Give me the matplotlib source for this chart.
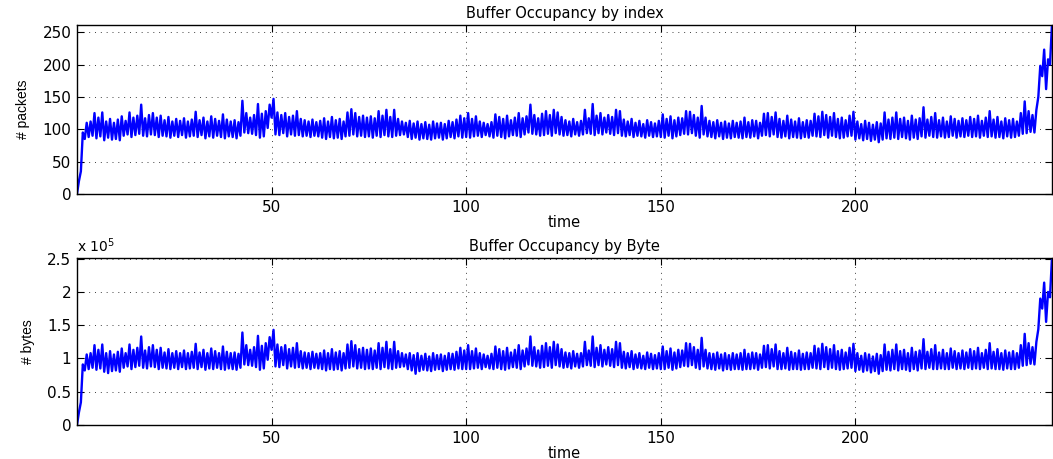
import matplotlib
matplotlib.use("Agg")
import matplotlib.pyplot as plt
import numpy as np
from matplotlib.ticker import FuncFormatter

# envelope of the queue trace, one pair per time unit (t = 0..250)
# lo is the bottom of the band at t, hi is the top of the band at t + 0.5
packets_lo = [0, 35, 85, 88, 90, 86, 89, 83, 87, 84,
              85, 83, 90, 92, 88, 91, 93, 90, 89, 92,
              91, 88, 90, 89, 87, 90, 88, 91, 87, 89,
              90, 88, 91, 86, 89, 87, 90, 88, 86, 89,
              88, 86, 90, 95, 94, 93, 91, 87, 89, 102,
              118, 92, 91, 94, 89, 92, 90, 91, 89, 90,
              88, 90, 89, 87, 85, 88, 86, 87, 85, 89,
              90, 92, 89, 90, 88, 89, 87, 90, 88, 91,
              89, 88, 90, 91, 92, 88, 85, 87, 84, 86,
              85, 84, 86, 87, 84, 86, 88, 86, 89, 87,
              88, 87, 89, 90, 88, 91, 89, 87, 90, 88,
              86, 89, 91, 90, 88, 92, 95, 93, 92, 90,
              91, 93, 90, 94, 92, 90, 91, 89, 92, 90,
              92, 94, 93, 91, 94, 92, 95, 93, 91, 94,
              90, 89, 91, 88, 90, 89, 87, 90, 88, 89,
              88, 87, 90, 86, 89, 91, 93, 92, 94, 90,
              87, 92, 89, 88, 86, 89, 85, 87, 86, 88,
              87, 86, 88, 87, 89, 86, 90, 91, 89, 92,
              88, 87, 89, 86, 88, 87, 86, 88, 87, 90,
              89, 88, 91, 87, 90, 88, 86, 87, 89, 90,
              84, 86, 83, 85, 82, 84, 80, 84, 86, 85,
              87, 85, 88, 86, 84, 87, 85, 89, 87, 90,
              88, 87, 89, 87, 88, 90, 87, 89, 88, 90,
              88, 89, 87, 90, 88, 89, 87, 88, 86, 89,
              87, 88, 90, 93, 94, 96, 95, 150, 182, 162, 200]
packets_hi = [20, 95, 110, 112, 125, 118, 126, 112, 116, 110,
              115, 120, 113, 126, 118, 121, 138, 117, 122, 125,
              118, 121, 114, 119, 112, 116, 113, 117, 112, 115,
              127, 114, 118, 112, 120, 116, 113, 123, 115, 112,
              114, 111, 144, 125, 118, 122, 139, 124, 128, 138,
              147, 126, 122, 125, 119, 121, 128, 116, 114, 112,
              115, 111, 113, 117, 112, 119, 114, 116, 112, 126,
              131, 125, 119, 121, 118, 120, 117, 128, 121, 130,
              119, 130, 116, 112, 110, 113, 109, 112, 108, 111,
              107, 112, 109, 110, 108, 113, 111, 115, 121, 117,
              125, 116, 120, 112, 110, 108, 111, 123, 119, 116,
              121, 114, 118, 125, 117, 120, 138, 122, 117, 124,
              128, 122, 130, 126, 119, 114, 112, 116, 111, 113,
              130, 117, 139, 121, 125, 118, 122, 119, 130, 128,
              115, 112, 116, 110, 113, 108, 114, 111, 109, 113,
              123, 116, 120, 114, 118, 117, 128, 127, 122, 118,
              136, 118, 113, 111, 114, 110, 112, 109, 113, 110,
              112, 118, 111, 114, 113, 110, 124, 125, 119, 126,
              116, 113, 121, 115, 112, 117, 111, 114, 113, 124,
              120, 127, 122, 119, 125, 116, 118, 114, 121, 127,
              112, 108, 113, 110, 107, 111, 109, 126, 115, 118,
              126, 116, 118, 113, 121, 115, 117, 134, 115, 119,
              125, 114, 118, 112, 120, 116, 113, 117, 114, 119,
              116, 121, 113, 118, 128, 115, 119, 112, 117, 114,
              116, 112, 125, 143, 128, 122, 130, 198, 223, 208, 261]

# same trace in bytes, read in thousands of bytes
kbytes_lo = [0, 34, 82, 84, 86, 83, 85, 80, 78, 81,
             82, 80, 86, 88, 84, 87, 89, 86, 85, 88,
             87, 84, 86, 85, 84, 86, 84, 87, 84, 85,
             86, 84, 87, 83, 85, 84, 86, 84, 83, 85,
             84, 83, 86, 91, 90, 89, 87, 83, 85, 98,
             113, 88, 87, 90, 85, 88, 86, 87, 85, 86,
             84, 86, 85, 84, 82, 84, 83, 84, 82, 85,
             86, 88, 85, 86, 84, 85, 84, 86, 84, 87,
             85, 84, 86, 87, 88, 84, 82, 77, 81, 83,
             82, 81, 83, 84, 81, 83, 84, 83, 85, 84,
             84, 84, 85, 86, 84, 87, 85, 84, 86, 84,
             83, 85, 87, 86, 84, 88, 91, 89, 88, 86,
             87, 89, 86, 90, 88, 86, 87, 85, 88, 86,
             88, 90, 89, 87, 90, 88, 91, 89, 87, 90,
             86, 85, 87, 84, 86, 85, 84, 86, 84, 85,
             84, 84, 86, 83, 85, 87, 89, 88, 90, 86,
             84, 88, 85, 84, 83, 85, 82, 84, 83, 84,
             84, 83, 84, 84, 85, 83, 86, 87, 85, 88,
             84, 84, 85, 83, 84, 84, 83, 84, 84, 86,
             85, 84, 87, 84, 86, 84, 83, 84, 85, 86,
             81, 83, 80, 82, 79, 81, 77, 81, 83, 82,
             84, 82, 84, 83, 81, 84, 82, 85, 84, 86,
             84, 84, 85, 84, 84, 86, 84, 85, 84, 86,
             84, 85, 84, 86, 84, 85, 84, 84, 83, 85,
             84, 84, 86, 89, 90, 92, 91, 144, 175, 155, 192]
kbytes_hi = [19, 91, 106, 108, 120, 113, 121, 108, 111, 106,
             110, 115, 108, 121, 113, 116, 133, 112, 117, 120,
             113, 116, 109, 114, 108, 111, 108, 112, 108, 110,
             122, 109, 113, 108, 115, 111, 108, 118, 110, 108,
             109, 107, 139, 120, 113, 117, 134, 119, 123, 132,
             143, 121, 117, 120, 114, 116, 123, 111, 109, 108,
             110, 107, 108, 112, 108, 114, 109, 111, 108, 121,
             126, 120, 114, 116, 113, 115, 112, 123, 116, 125,
             114, 125, 111, 108, 106, 108, 105, 108, 104, 107,
             103, 108, 105, 106, 104, 108, 107, 110, 116, 112,
             120, 111, 115, 108, 106, 104, 107, 118, 114, 111,
             116, 109, 113, 120, 112, 115, 133, 117, 112, 119,
             123, 117, 125, 121, 114, 109, 108, 111, 107, 108,
             125, 112, 133, 116, 120, 113, 117, 114, 125, 123,
             110, 108, 111, 106, 108, 104, 109, 107, 105, 108,
             118, 111, 115, 109, 113, 112, 123, 122, 117, 113,
             131, 113, 108, 107, 109, 106, 108, 105, 108, 106,
             108, 113, 107, 109, 108, 106, 119, 120, 114, 121,
             111, 108, 116, 110, 108, 112, 107, 109, 108, 119,
             115, 122, 117, 114, 120, 111, 113, 109, 116, 122,
             108, 104, 108, 106, 103, 107, 105, 121, 110, 113,
             121, 111, 113, 108, 116, 110, 112, 129, 110, 114,
             120, 109, 113, 108, 115, 111, 108, 112, 109, 114,
             111, 116, 108, 113, 123, 110, 114, 108, 112, 109,
             111, 108, 120, 137, 123, 117, 125, 190, 214, 200, 251]

x_ticks = [50, 100, 150, 200]
pkt_ticks = [0, 50, 100, 150, 200, 250]
byte_ticks = [0, 0.5e5, 1e5, 1.5e5, 2e5, 2.5e5]


def zigzag(lo, hi):
    """Interleave band bottom (at t) and band top (at t + 0.5)."""
    t = np.arange(len(lo))
    x = np.column_stack([t, t + 0.5]).ravel()
    y = np.column_stack([lo, hi]).ravel()
    return x, y


def style_axes(ax):
    ax.set_xlim(0, 250.5)
    ax.set_xticks(x_ticks)
    ax.grid(True, linestyle=(0, (1, 5)), color='0.25', linewidth=0.7)
    ax.tick_params(direction='in', top=True, right=True, length=5,
                   labelsize=11, pad=4)
    for sp in ax.spines.values():
        sp.set_linewidth(1.0)


plt.rcParams['font.family'] = 'DejaVu Sans'
fig = plt.figure(figsize=(10.53, 4.59), dpi=100)

# top panel: packets
ax1 = fig.add_axes([0.0731, 0.5773, 0.9259, 0.3682])
x, y = zigzag(packets_lo, packets_hi)
ax1.plot(x, y, color='#0000ff', linewidth=1.7)
style_axes(ax1)
ax1.set_ylim(0, 261)
ax1.set_yticks(pkt_ticks)
ax1.set_title('Buffer Occupancy by index', fontsize=10.5, pad=5)
ax1.set_xlabel('time', fontsize=10.5, labelpad=0)
ax1.set_ylabel('# packets', fontsize=10, family='Liberation Sans', labelpad=9)

# bottom panel: bytes
ax2 = fig.add_axes([0.0731, 0.0741, 0.9259, 0.3638])
x, y = zigzag(np.array(kbytes_lo) * 1000, np.array(kbytes_hi) * 1000)
ax2.plot(x, y, color='#0000ff', linewidth=1.7)
style_axes(ax2)
ax2.set_ylim(0, 2.51e5)
ax2.set_yticks(byte_ticks)
ax2.yaxis.set_major_formatter(FuncFormatter(lambda v, p: '%g' % (v / 1e5)))
ax2.text(0.0, 1.02, r'x 10$^5$', transform=ax2.transAxes, fontsize=10,
         ha='left', va='bottom')
ax2.set_title('Buffer Occupancy by Byte', fontsize=10.5, pad=5)
ax2.set_xlabel('time', fontsize=10.5, labelpad=0)
ax2.set_ylabel('# bytes', fontsize=10, family='Liberation Sans', labelpad=9)

fig.savefig('out.png', dpi=100)
